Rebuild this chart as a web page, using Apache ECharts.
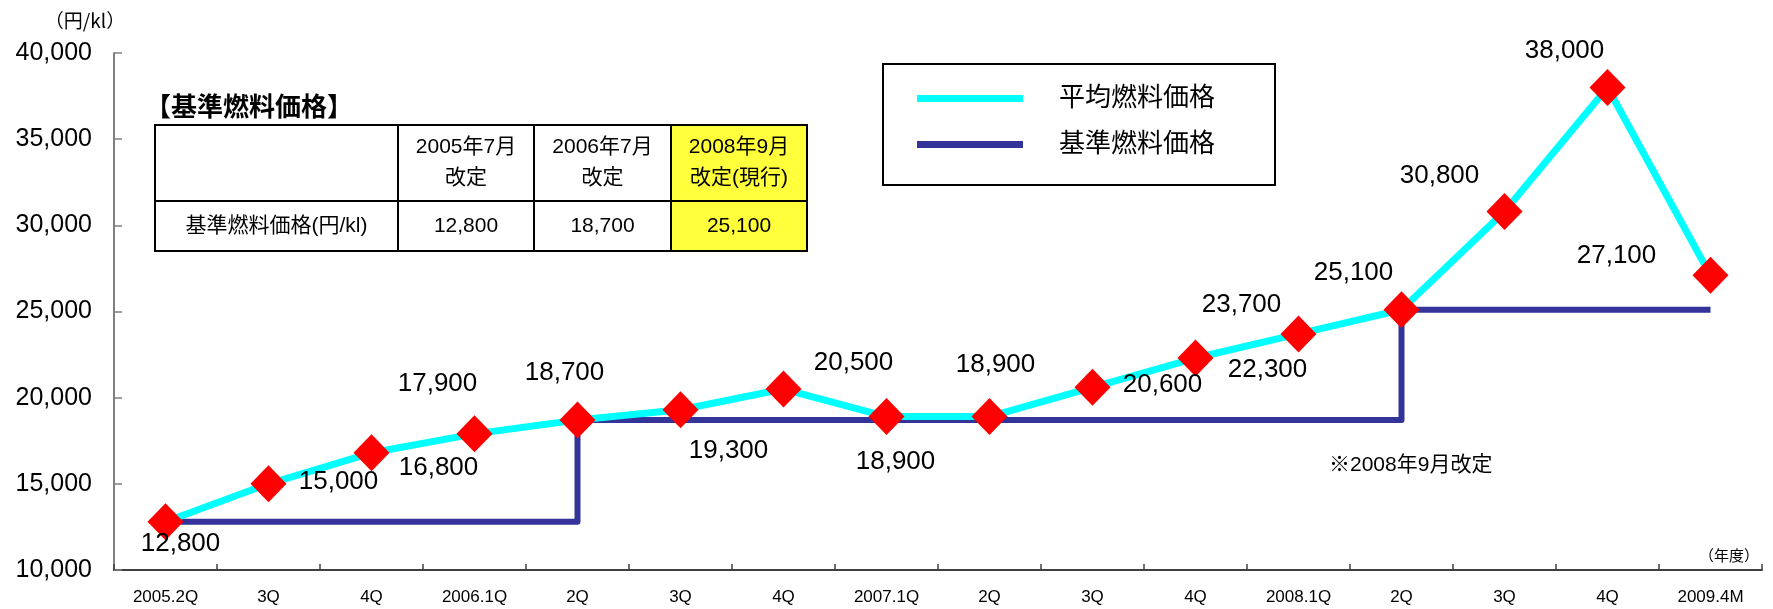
<!DOCTYPE html>
<html>
<head>
<meta charset="utf-8">
<script src="https://cdn.jsdelivr.net/npm/echarts@6/dist/echarts.min.js"></script>
<style>
html,body{margin:0;padding:0;background:#fff;}
#chart{width:1773px;height:609px;}
</style>
</head>
<body>
<div id="chart"></div>
<script>
// ---- data ----
const categories = ['2005.2Q','3Q','4Q','2006.1Q','2Q','3Q','4Q','2007.1Q','2Q','3Q','4Q','2008.1Q','2Q','3Q','4Q','2009.4M'];
const avgPrice  = [12800,15000,16800,17900,18700,19300,20500,18900,18900,20600,22300,23700,25100,30800,38000,27100];
const basePrice = [12800,12800,12800,12800,18700,18700,18700,18700,18700,18700,18700,18700,25100,25100,25100,25100];
const yMin = 10000, yMax = 40000, yStep = 5000;
const seriesNames = ['平均燃料価格','基準燃料価格'];
const tableTitle = '【基準燃料価格】';
const tableRowLabel = '基準燃料価格(円/kl)';
const tableHeaders = ['2005年7月\n改定','2006年7月\n改定','2008年9月\n改定(現行)'];
const tableValues = [12800,18700,25100];
const yUnit = '（円/kl）';
const xUnit = '（年度）';
const note = '※2008年9月改定';

// ---- styling (label placement relative to marker centre) ----
const labelOffsets = [[15,22],[70,-2],[67,15],[-37,-50],[-13,-47],[48,41],[70,-26],[9,45],[6,-52],[70,-2],[72,12],[-57,-29],[-48,-37],[-65,-36],[-43,-37],[-94,-19]];

const fmt = v => String(v).replace(/\B(?=(\d{3})+(?!\d))/g, ',');
const FONT = '"Liberation Sans", Arial, "Noto Sans CJK JP", sans-serif';

const chart = echarts.init(document.getElementById('chart'), null, {renderer:'canvas'});

// table graphics
const colX = [155, 398, 534, 671, 807];
const rowY = [125, 201, 251];
const g = [];
g.push({type:'text', style:{text: tableTitle, x:145, y:106, align:'left', verticalAlign:'middle', fontSize:26, fontWeight:'bold', fontFamily:'"Noto Sans CJK JP", sans-serif', fill:'#000'}});
for (let c = 0; c < 4; c++) {
  for (let r = 0; r < 2; r++) {
    g.push({type:'rect', shape:{x:colX[c], y:rowY[r], width:colX[c+1]-colX[c], height:rowY[r+1]-rowY[r]},
      style:{fill: c === 3 ? '#FFFF3C' : '#fff', stroke:'#000', lineWidth:2}, z:1});
  }
}
g.push({type:'text', z:2, style:{text: tableRowLabel, x:(colX[0]+colX[1])/2, y:(rowY[1]+rowY[2])/2, align:'center', verticalAlign:'middle', fontSize:21, fontFamily:FONT, fill:'#000'}});
for (let c = 0; c < 3; c++) {
  const cx = (colX[c+1]+colX[c+2])/2;
  g.push({type:'text', z:2, style:{text: tableHeaders[c], x:cx, y:(rowY[0]+rowY[1])/2, align:'center', verticalAlign:'middle', fontSize:21, lineHeight:31, fontFamily:FONT, fill:'#000'}});
  g.push({type:'text', z:2, style:{text: fmt(tableValues[c]), x:cx, y:(rowY[1]+rowY[2])/2, align:'center', verticalAlign:'middle', fontSize:21, fontFamily:FONT, fill:'#000'}});
}
// legend box
g.push({type:'rect', shape:{x:883, y:64, width:392, height:121}, style:{fill:'#fff', stroke:'#000', lineWidth:2}, z:0});
// unit / note texts
g.push({type:'text', style:{text: yUnit, x:85, y:21, align:'center', verticalAlign:'middle', fontSize:19, fontFamily:'"Noto Sans CJK JP", sans-serif', fill:'#000'}});
g.push({type:'text', style:{text: xUnit, x:1759, y:555, align:'right', verticalAlign:'middle', fontSize:15, fontFamily:'"Noto Sans CJK JP", sans-serif', fill:'#000'}});
g.push({type:'text', style:{text: note, x:1329, y:465, align:'left', verticalAlign:'middle', fontSize:21, fontFamily:FONT, fill:'#000'}});

const option = {
  backgroundColor:'#fff',
  animation:false,
  textStyle:{fontFamily:FONT},
  grid:{left:114, right:11, top:53, bottom:39, containLabel:false},
  legend:{
    orient:'vertical', left:912, top:80, itemWidth:106, itemHeight:7, itemGap:19, icon:'rect',
    textStyle:{fontSize:26, lineHeight:27, color:'#000', fontFamily:FONT, padding:[0,0,0,31]},
    data: seriesNames, z:5
  },
  xAxis:{
    type:'category', data:categories, boundaryGap:true,
    axisLine:{lineStyle:{color:'#404040', width:2}},
    axisTick:{show:true, inside:true, length:6, lineStyle:{color:'#404040', width:1.5}},
    axisLabel:{fontSize:17, color:'#000', margin:19, interval:0, fontFamily:FONT},
    splitLine:{show:false}
  },
  yAxis:{
    type:'value', min:yMin, max:yMax, interval:yStep,
    axisLine:{show:true, lineStyle:{color:'#808080', width:2}},
    axisTick:{show:true, inside:true, length:8, lineStyle:{color:'#808080', width:1.5}},
    axisLabel:{fontSize:25, color:'#000', margin:22, formatter:v => fmt(v), fontFamily:FONT},
    splitLine:{show:false}
  },
  graphic:g,
  series:[
    {
      name:seriesNames[1], type:'line', data:basePrice, step:'end', symbol:'none',
      lineStyle:{color:'#333399', width:6, join:'round'}, itemStyle:{color:'#333399'}, z:2
    },
    {
      name:seriesNames[0], type:'line', data:avgPrice, symbol:'none', smooth:false,
      lineStyle:{color:'#00FFFF', width:7}, itemStyle:{color:'#00FFFF'}, z:3
    },
    {
      name:'marker', type:'scatter', data:avgPrice, symbol:'diamond', symbolSize:[36,37],
      itemStyle:{color:'#FF0000', opacity:1}, z:4,
      label:{
        show:true, position:'inside', fontSize:26, color:'#000', fontFamily:FONT,
        formatter:p => fmt(p.value)
      },
      labelLayout: p => ({dx: labelOffsets[p.dataIndex][0], dy: labelOffsets[p.dataIndex][1]})
    }
  ]
};
chart.setOption(option);
</script>
</body>
</html>
